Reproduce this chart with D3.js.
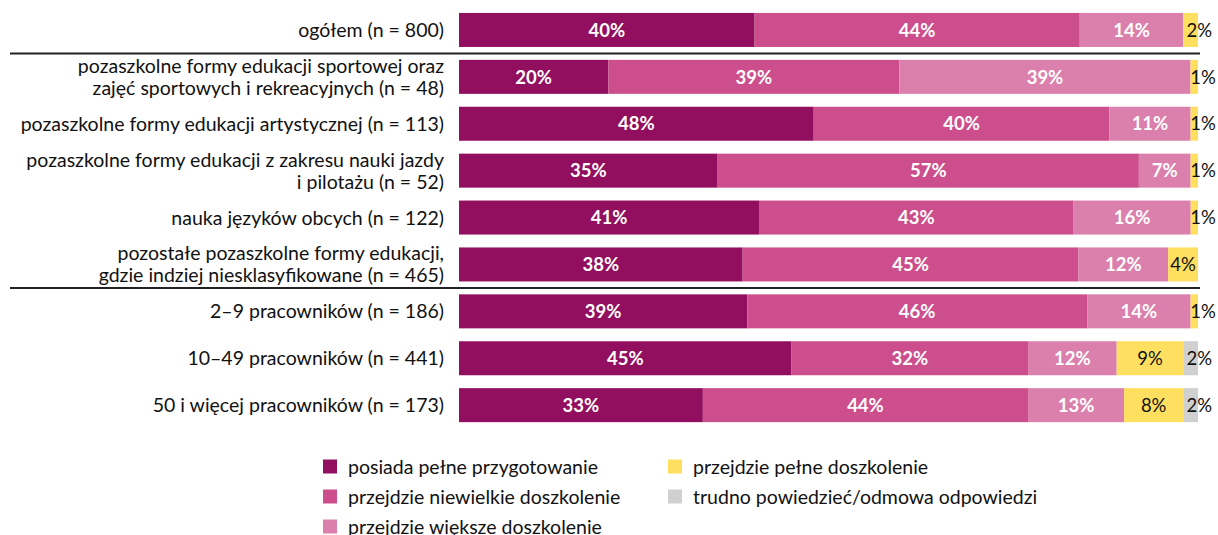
<!DOCTYPE html>
<html>
<head>
<meta charset="utf-8">
<script src="https://cdn.jsdelivr.net/npm/d3@7"></script>
<style>
  html, body { margin: 0; padding: 0; background: #fff; }
  svg { display: block; font-family: Lato, "Open Sans", sans-serif; }
</style>
</head>
<body>
<svg id="chart" width="1218" height="535"></svg>
<script>
// Category labels (lines of each label), top to bottom
const categories = [
  ["ogółem (n = 800)"],
  ["pozaszkolne formy edukacji sportowej oraz", "zajęć sportowych i rekreacyjnych (n = 48)"],
  ["pozaszkolne formy edukacji artystycznej (n = 113)"],
  ["pozaszkolne formy edukacji z zakresu nauki jazdy", "i pilotażu (n = 52)"],
  ["nauka języków obcych (n = 122)"],
  ["pozostałe pozaszkolne formy edukacji,", "gdzie indziej niesklasyfikowane (n = 465)"],
  ["2–9 pracowników (n = 186)"],
  ["10–49 pracowników (n = 441)"],
  ["50 i więcej pracowników (n = 173)"]
];

const seriesNames = [
  "posiada pełne przygotowanie",
  "przejdzie niewielkie doszkolenie",
  "przejdzie większe doszkolenie",
  "przejdzie pełne doszkolenie",
  "trudno powiedzieć/odmowa odpowiedzi"
];

// Percentages per series, one value per category
const pelnePrzygotowanie   = [40, 20, 48, 35, 41, 38, 39, 45, 33];
const niewielkieDoszkol    = [44, 39, 40, 57, 43, 45, 46, 32, 44];
const wiekszeDoszkol       = [14, 39, 11,  7, 16, 12, 14, 12, 13];
const pelneDoszkol         = [ 2,  1,  1,  1,  1,  4,  1,  9,  8];
const trudnoPowiedziec     = [ 0,  0,  0,  0,  0,  0,  0,  2,  2];

const colors = ["#920F60", "#CD4E8C", "#DB80AC", "#FFDF60", "#D0D0D0"];

// Rows after which a separator line is drawn
const separatorsAfter = [0, 5];

const seriesValues = [pelnePrzygotowanie, niewielkieDoszkol, wiekszeDoszkol, pelneDoszkol, trudnoPowiedziec];
const keys = seriesNames;
const rows = categories.map((c, i) => {
  const r = { idx: i };
  keys.forEach((k, j) => r[k] = seriesValues[j][i]);
  return r;
});

const stack = d3.stack().keys(keys).offset(d3.stackOffsetExpand);
const stacked = stack(rows);

const svg = d3.select("#chart");
const plotLeft = 459, plotRight = 1198, plotTop = 6.5, rowStep = 46.9;

const x = d3.scaleLinear().domain([0, 1]).range([plotLeft, plotRight]);
const y = d3.scaleBand()
  .domain(d3.range(categories.length))
  .range([plotTop, plotTop + rowStep * categories.length])
  .paddingInner(0.275).paddingOuter(0.1375);

// Bars
const layers = svg.append("g").selectAll("g")
  .data(stacked).join("g")
  .attr("fill", (d, i) => colors[i]);

layers.selectAll("rect")
  .data(d => d.filter(s => s.data[d.key] > 0))
  .join("rect")
  .attr("x", d => x(d[0]))
  .attr("y", d => y(d.data.idx))
  .attr("width", d => x(d[1]) - x(d[0]))
  .attr("height", y.bandwidth());

// Value labels
stacked.forEach((layer, si) => {
  layer.forEach(d => {
    const v = d.data[layer.key];
    if (!v) return;
    const cx = (x(d[0]) + x(d[1])) / 2;
    const cy = y(d.data.idx) + y.bandwidth() / 2;
    const small = v <= 2;
    const dark = si >= 3;
    svg.append("text")
      .attr("x", small ? cx - 4 : cx)
      .attr("y", cy)
      .attr("dy", "0.36em")
      .attr("text-anchor", small ? "start" : "middle")
      .attr("font-size", 18.5)
      .attr("font-weight", dark ? 400 : 700)
      .attr("fill", dark ? "#111" : "#fff")
      .text(v + "%");
  });
});

// Category labels
const labelG = svg.append("g");
categories.forEach((lines, i) => {
  const cy = y(i) + y.bandwidth() / 2;
  const lh = 22;
  const t = labelG.append("text")
    .attr("text-anchor", "end")
    .attr("font-size", 19.5)
    .attr("fill", "#111");
  lines.forEach((ln, k) => {
    t.append("tspan")
      .attr("x", 444)
      .attr("y", cy + (k - (lines.length - 1) / 2) * lh)
      .attr("dy", "0.36em")
      .text(ln);
  });
});

// Separator lines between groups
separatorsAfter.forEach(i => {
  const ly = (y(i) + y.bandwidth() + y(i + 1)) / 2;
  svg.append("line")
    .attr("x1", 10).attr("x2", 1200)
    .attr("y1", ly).attr("y2", ly)
    .attr("stroke", "#222").attr("stroke-width", 2);
});

// Legend
const legendPos = [
  [323, 466.5], [323, 496.5], [323, 526.5],
  [668, 466.5], [668, 496.5]
];
seriesNames.forEach((name, i) => {
  const [lx, ly] = legendPos[i];
  svg.append("rect")
    .attr("x", lx).attr("y", ly - 7)
    .attr("width", 14).attr("height", 14)
    .attr("fill", colors[i]);
  svg.append("text")
    .attr("x", lx + 25).attr("y", ly)
    .attr("dy", "0.36em")
    .attr("font-size", 19.5)
    .attr("fill", "#111")
    .text(name);
});
</script>
</body>
</html>
